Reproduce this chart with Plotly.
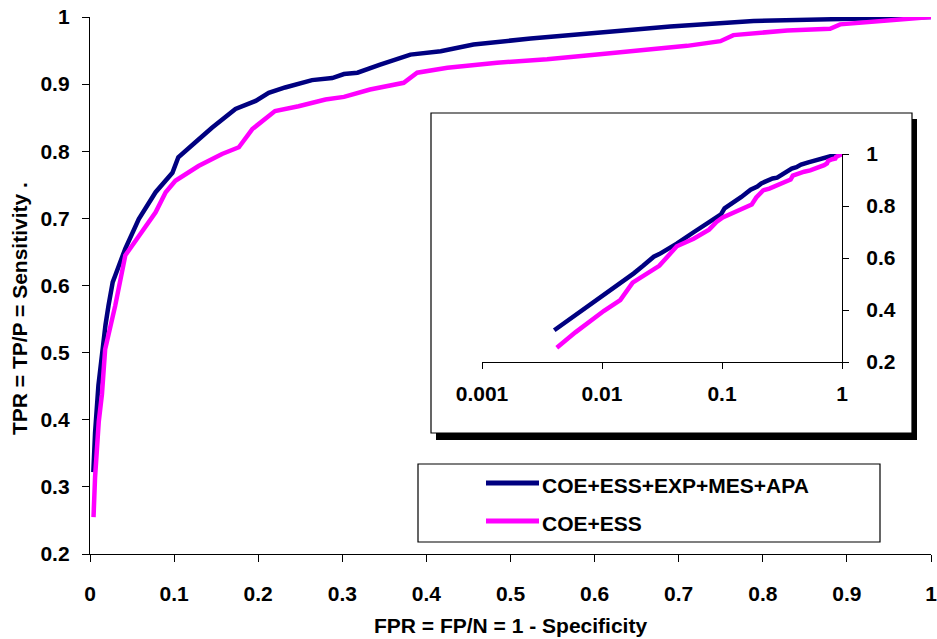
import plotly.graph_objects as go

# ---------------- data ----------------
series_names = ["COE+ESS+EXP+MES+APA", "COE+ESS"]
series_colors = ["#000080", "#FF00FF"]

fpr_full = [0.004, 0.006, 0.01, 0.0142, 0.0184, 0.022, 0.027, 0.030, 0.042, 0.058,
            0.078, 0.098, 0.105, 0.125, 0.145, 0.173, 0.197, 0.2125, 0.232, 0.264,
            0.288, 0.302, 0.318, 0.345, 0.381, 0.417, 0.456, 0.524, 0.603, 0.631,
            0.690, 0.789, 0.8685, 0.956, 1.0]
tpr_full = [0.322, 0.380, 0.451, 0.502, 0.541, 0.570, 0.605, 0.615, 0.655, 0.699,
            0.739, 0.768, 0.791, 0.813, 0.835, 0.863, 0.875, 0.887, 0.895, 0.906,
            0.909, 0.915, 0.917, 0.929, 0.944, 0.949, 0.959, 0.968, 0.9765, 0.979,
            0.986, 0.994, 0.996, 0.999, 1.0]

fpr_ess = [0.0042, 0.006, 0.0104, 0.0142, 0.018, 0.027, 0.030, 0.042, 0.058, 0.078,
           0.090, 0.1015, 0.129, 0.157, 0.177, 0.193, 0.220, 0.248, 0.280, 0.302,
           0.333, 0.373, 0.389, 0.425, 0.484, 0.5435, 0.603, 0.6425, 0.710, 0.7496,
           0.765, 0.829, 0.880, 0.892, 0.948, 1.0]
tpr_ess = [0.255, 0.314, 0.397, 0.438, 0.505, 0.554, 0.570, 0.645, 0.674, 0.709,
           0.739, 0.756, 0.778, 0.796, 0.806, 0.833, 0.860, 0.867, 0.877, 0.881,
           0.892, 0.902, 0.917, 0.9245, 0.932, 0.937, 0.944, 0.949, 0.957, 0.964,
           0.973, 0.980, 0.9825, 0.989, 0.994, 1.0]

x_ticks = [0, 0.1, 0.2, 0.3, 0.4, 0.5, 0.6, 0.7, 0.8, 0.9, 1]
x_ticklabels = ["0", "0.1", "0.2", "0.3", "0.4", "0.5", "0.6", "0.7", "0.8", "0.9", "1"]
y_ticks = [0.2, 0.3, 0.4, 0.5, 0.6, 0.7, 0.8, 0.9, 1]
y_ticklabels = ["0.2", "0.3", "0.4", "0.5", "0.6", "0.7", "0.8", "0.9", "1"]
inset_x_ticks = [0.001, 0.01, 0.1, 1]
inset_x_ticklabels = ["0.001", "0.01", "0.1", "1"]
inset_y_ticks = [0.2, 0.4, 0.6, 0.8, 1]
inset_y_ticklabels = ["0.2", "0.4", "0.6", "0.8", "1"]

x_title = "FPR = FP/N = 1 - Specificity"
y_title = "TPR = TP/P = Sensitivity ."

# ---------------- layout helpers ----------------
W, H = 937, 639
ML, MR, MT, MB = 90, 6, 17, 85
PW, PH = W - ML - MR, H - MT - MB

def px2x(px):
    return (px - ML) / PW

def py2y(py):
    return (H - MB - py) / PH

FONT = "Liberation Sans, Arial, sans-serif"
FS = 21
boldf = dict(family=FONT, size=FS, color="black", weight="bold")

data_x = [fpr_full, fpr_ess]
data_y = [tpr_full, tpr_ess]

fig = go.Figure()
for name, col, xs, ys in zip(series_names, series_colors, data_x, data_y):
    fig.add_trace(go.Scatter(x=xs, y=ys, mode="lines", name=name,
                             line=dict(color=col, width=4.5), showlegend=False,
                             xaxis="x", yaxis="y"))
for name, col, xs, ys in zip(series_names, series_colors, data_x, data_y):
    fig.add_trace(go.Scatter(x=xs, y=ys, mode="lines", name=name,
                             line=dict(color=col, width=4.5), showlegend=False,
                             xaxis="x2", yaxis="y2"))

axis_common = dict(showgrid=False, zeroline=False, showline=True, linecolor="black",
                   linewidth=1.3, ticks="outside", tickcolor="black", tickwidth=1.3,
                   tickfont=boldf, automargin=False, ticklabeloverflow="allow")

shapes = [
    # inset shadow
    dict(type="rect", xref="paper", yref="paper", layer="below",
         x0=px2x(436), x1=px2x(917), y0=py2y(440), y1=py2y(119),
         fillcolor="black", line=dict(width=0)),
    # inset box
    dict(type="rect", xref="paper", yref="paper", layer="below",
         x0=px2x(431), x1=px2x(912), y0=py2y(433), y1=py2y(113),
         fillcolor="white", line=dict(color="black", width=1.2)),
    # legend box
    dict(type="rect", xref="paper", yref="paper", layer="above",
         x0=px2x(418), x1=px2x(880), y0=py2y(542), y1=py2y(464),
         fillcolor="rgba(0,0,0,0)", line=dict(color="black", width=1.2)),
]
annotations = []
legend_rows = [483, 521]
for name, col, ly in zip(series_names, series_colors, legend_rows):
    shapes.append(dict(type="line", xref="paper", yref="paper", layer="above",
                       x0=px2x(486), x1=px2x(539), y0=py2y(ly), y1=py2y(ly),
                       line=dict(color=col, width=5)))
    annotations.append(dict(xref="paper", yref="paper", x=px2x(540), y=py2y(ly + 2),
                            text=name, showarrow=False, xanchor="left", yanchor="middle",
                            font=boldf))

annotations.append(dict(xref="paper", yref="paper", x=px2x(510), y=py2y(625),
                        text=x_title, showarrow=False, xanchor="center",
                        yanchor="middle", font=boldf))
annotations.append(dict(xref="paper", yref="paper", x=px2x(19), y=py2y(309),
                        text=y_title, showarrow=False, xanchor="center",
                        yanchor="middle", textangle=-90, font=boldf))

fig.update_layout(
    width=W, height=H, autosize=False,
    margin=dict(l=ML, r=MR, t=MT, b=MB, autoexpand=False),
    paper_bgcolor="white", plot_bgcolor="rgba(0,0,0,0)",
    showlegend=False,
    xaxis=dict(range=[0, 1], tickvals=x_ticks, ticktext=x_ticklabels, ticklen=7,
               ticklabelstandoff=14, domain=[0, 1], anchor="y", **axis_common),
    yaxis=dict(range=[0.2, 1], tickvals=y_ticks, ticktext=y_ticklabels, ticklen=7,
               ticklabelstandoff=8, domain=[0, 1], anchor="x", **axis_common),
    xaxis2=dict(type="log", range=[-3, 0], tickvals=inset_x_ticks,
                ticktext=inset_x_ticklabels, ticklen=6, ticklabelstandoff=7,
                domain=[px2x(482), px2x(842)], anchor="y2", **axis_common),
    yaxis2=dict(range=[0.2, 1], tickvals=inset_y_ticks, ticktext=inset_y_ticklabels,
                ticklen=6, ticklabelstandoff=13, side="right",
                domain=[py2y(362), py2y(154)], anchor="x2", **axis_common),
    shapes=shapes,
    annotations=annotations,
)

fig.write_html("out.html", config={"displayModeBar": False},
               post_script="document.body.style.margin='0';document.body.style.overflow='hidden';")
